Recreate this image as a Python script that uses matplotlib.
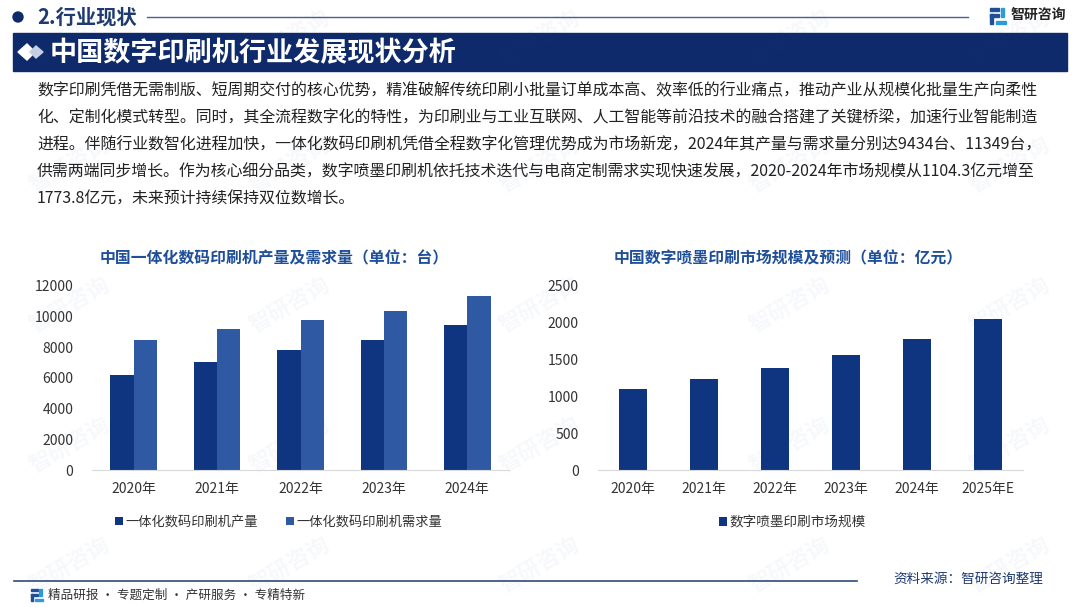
import matplotlib
matplotlib.use("Agg")
import matplotlib.pyplot as plt
from matplotlib.patches import Rectangle, Polygon, Circle
import numpy as np

plt.rcParams['font.family'] = ['Noto Sans CJK SC', 'DejaVu Sans']

# data
years_left = ["2020年", "2021年", "2022年", "2023年", "2024年"]
production = [6200, 7050, 7850, 8500, 9434]
demand = [8450, 9200, 9800, 10400, 11349]
years_right = ["2020年", "2021年", "2022年", "2023年", "2024年", "2025年E"]
market = [1104.3, 1230, 1390, 1560, 1773.8, 2050]

section_title = "2.行业现状"
banner_title = "中国数字印刷机行业发展现状分析"
paragraph = [
    "数字印刷凭借无需制版、短周期交付的核心优势，精准破解传统印刷小批量订单成本高、效率低的行业痛点，推动产业从规模化批量生产向柔性",
    "化、定制化模式转型。同时，其全流程数字化的特性，为印刷业与工业互联网、人工智能等前沿技术的融合搭建了关键桥梁，加速行业智能制造",
    "进程。伴随行业数智化进程加快，一体化数码印刷机凭借全程数字化管理优势成为市场新宠，2024年其产量与需求量分别达9434台、11349台，",
    "供需两端同步增长。作为核心细分品类，数字喷墨印刷机依托技术迭代与电商定制需求实现快速发展，2020-2024年市场规模从1104.3亿元增至",
    "1773.8亿元，未来预计持续保持双位数增长。",
]

NAVY = "#0f2a6b"
DARK = "#0f3580"
MID = "#2f59a3"
TITLE = "#1f4f98"
TEXT = "#333333"
W, H = 1080, 607

fig = plt.figure(figsize=(W / 100, H / 100), dpi=100, facecolor="white")

# page furniture drawn in pixel coordinates
bg = fig.add_axes([0, 0, 1, 1])
bg.set_xlim(0, W)
bg.set_ylim(H, 0)
bg.axis("off")


def draw_logo(x, y, s, c1="#1f4f98", c2="#2e9bd6"):
    # small square company mark
    bg.add_patch(Rectangle((x, y), s * 0.55, s * 0.18, color=c1))
    bg.add_patch(Rectangle((x, y + s * 0.4), s * 0.55, s * 0.18, color=c1))
    bg.add_patch(Rectangle((x, y + s * 0.4), s * 0.18, s * 0.6, color=c1))
    bg.add_patch(Rectangle((x + s * 0.7, y), s * 0.2, s * 0.55, color=c2))
    bg.add_patch(Rectangle((x + s * 0.35, y + s * 0.8), s * 0.65, s * 0.2, color=c2))


# watermarks
for wx in (70, 290, 540, 790, 1010):
    for wy in (38, 165, 305, 445, 565):
        bg.text(wx, wy, "智研咨询", fontsize=16, color="#1f4f98", alpha=0.04,
                rotation=30, ha="center", va="center", fontweight="bold")

# header
bg.add_patch(Circle((18, 17), 5, color=NAVY))
bg.text(37, 17, section_title, fontsize=14.6, fontweight="bold", color="#1f3a70",
        va="center")
bg.plot([147, 968], [16.5, 16.5], color="#4a5f96", lw=1)
draw_logo(990, 8, 16)
bg.text(1011, 15, "智研咨询", fontsize=10, fontweight="bold", color="#222222", va="center")

# banner
bg.add_patch(Rectangle((13, 33), 1054, 38, color=NAVY))
bg.add_patch(Polygon([[18, 52], [27, 44], [35, 52], [27, 60]], color="white"))
bg.add_patch(Polygon([[30, 52], [36, 46], [43, 52], [36, 58]], color="#c9d2e6"))
bg.text(50, 53, banner_title, fontsize=19.5, fontweight="bold", color="white",
        va="center")

# body text
for i, line in enumerate(paragraph):
    bg.text(37, 91 + i * 27, line, fontsize=11.47, color="#222222", va="center")

# footer
bg.plot([14, 857], [580.5, 580.5], color="#2f4a7c", lw=1.2)
draw_logo(31, 589, 12)
bg.text(48, 595, "精品研报 · 专题定制 · 产研服务 · 专精特新", fontsize=9.05,
        color="#333333", va="center")
bg.text(893, 579, "资料来源：智研咨询整理", fontsize=9.8, color="#1f3a70", va="center")


def chart_axes(left, right, ymax, ticks, labels):
    ax = fig.add_axes([left / W, 1 - 470 / H, (right - left) / W, 184 / H])
    ax.patch.set_alpha(0)
    for side in ("top", "left", "right"):
        ax.spines[side].set_visible(False)
    ax.spines["bottom"].set_color("#d9d9d9")
    ax.set_ylim(0, ymax)
    ax.set_yticks(ticks)
    ax.set_xticks(np.arange(len(labels)))
    ax.set_xticklabels(labels)
    ax.set_xlim(-0.5, len(labels) - 0.5)
    ax.tick_params(axis="both", length=0, labelsize=10, labelcolor=TEXT)
    ax.tick_params(axis="y", pad=13.5)
    ax.tick_params(axis="x", pad=9)
    return ax


# left chart
ax1 = chart_axes(92, 509, 12000, np.arange(0, 12001, 2000), years_left)
x1 = np.arange(len(years_left))
ax1.bar(x1 - 0.14, production, 0.28, color=DARK, label="一体化数码印刷机产量")
ax1.bar(x1 + 0.14, demand, 0.28, color=MID, label="一体化数码印刷机需求量")
ax1.legend(loc="center", bbox_to_anchor=(0.447, -0.285), ncol=2, frameon=False,
           fontsize=9.5, labelcolor=TEXT, handlelength=0.6, handleheight=0.6,
           handletextpad=0.2, columnspacing=2.13)
bg.text(274.5, 258, "中国一体化数码印刷机产量及需求量（单位：台）", fontsize=11.4,
        fontweight="bold", color=TITLE, ha="center", va="center")

# right chart
ax2 = chart_axes(597.5, 1023.5, 2500, np.arange(0, 2501, 500), years_right)
x2 = np.arange(len(years_right))
ax2.bar(x2, market, 0.4, color=DARK, label="数字喷墨印刷市场规模")
ax2.legend(loc="center", bbox_to_anchor=(0.457, -0.285), frameon=False,
           fontsize=9.8, labelcolor=TEXT, handlelength=0.6, handleheight=0.6,
           handletextpad=0.2)
bg.text(788.5, 258, "中国数字喷墨印刷市场规模及预测（单位：亿元）", fontsize=11.4,
        fontweight="bold", color=TITLE, ha="center", va="center")

fig.savefig("out.png", dpi=100)
